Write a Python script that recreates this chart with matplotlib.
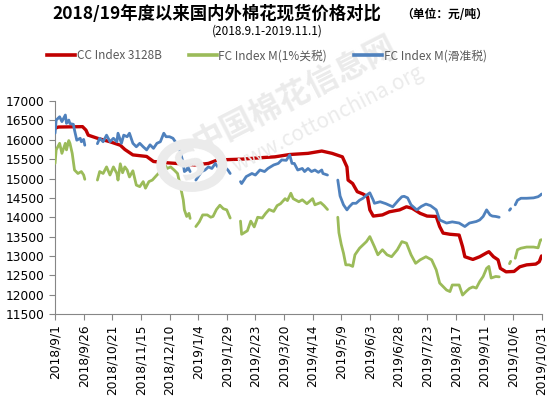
"""2018/19年度以来国内外棉花现货价格对比 – line chart."""

import numpy as np
import pandas as pd
import matplotlib
matplotlib.use("Agg")
import matplotlib.pyplot as plt
from matplotlib.lines import Line2D
from matplotlib.patches import Circle

# ── Style constants ───────────────────────────────────────────────────────
RED   = "#C00000"
GREEN = "#9BBB59"
BLUE  = "#4F81BD"
TEXT_COLOR  = "#000000"
LEGEND_TEXT = "#595959"
SPINE_COLOR = "#868686"
WATERMARK   = "#ebebeb"
CJK = ["Noto Sans CJK SC", "DejaVu Sans"]

# ── Data ──────────────────────────────────────────────────────────────────
red_dates = [
    "2018-09-01", "2018-09-04", "2018-09-25", "2018-09-28", "2018-09-30",
    "2018-10-08", "2018-10-19", "2018-10-28", "2018-11-01", "2018-11-08",
    "2018-11-20", "2018-11-26", "2018-12-06", "2018-12-16", "2019-01-01",
    "2019-01-13", "2019-01-21", "2019-02-11", "2019-03-01", "2019-03-12",
    "2019-03-25", "2019-04-10", "2019-04-22", "2019-05-01", "2019-05-10",
    "2019-05-14", "2019-05-15", "2019-05-19", "2019-05-23", "2019-05-28",
    "2019-06-01", "2019-06-03", "2019-06-06", "2019-06-14", "2019-06-20",
    "2019-06-29", "2019-07-05", "2019-07-10", "2019-07-17", "2019-07-23",
    "2019-07-31", "2019-08-03", "2019-08-06", "2019-08-12", "2019-08-20",
    "2019-08-23", "2019-08-25", "2019-09-01", "2019-09-07", "2019-09-13",
    "2019-09-15", "2019-09-19", "2019-09-23", "2019-09-25", "2019-09-30",
    "2019-10-07", "2019-10-12", "2019-10-18", "2019-10-26", "2019-10-29",
    "2019-10-31",
]
red_vals = [
    16300, 16330, 16340, 16250, 16120,
    16040, 15950, 15860, 15750, 15610,
    15570, 15440, 15410, 15390, 15350,
    15390, 15480, 15500, 15540, 15560,
    15620, 15650, 15710, 15650, 15560,
    15300, 14960, 14870, 14660, 14600,
    14530, 14190, 14030, 14060, 14140,
    14190, 14270, 14230, 14100, 14030,
    14020, 13760, 13590, 13560, 13540,
    13240, 12980, 12910, 12980, 13080,
    13110, 12980, 12900, 12680, 12590,
    12600, 12720, 12770, 12790, 12850,
    13000,
]

blue_dates = [
    "2018-09-01", "2018-09-02", "2018-09-05", "2018-09-07", "2018-09-10",
    "2018-09-11", "2018-09-13", "2018-09-14", "2018-09-17", "2018-09-18",
    "2018-09-20", "2018-09-23", "2018-09-24", "2018-09-26", "2018-09-27",
    "2018-10-03",
    "2018-10-08", "2018-10-10", "2018-10-13", "2018-10-16", "2018-10-19",
    "2018-10-22", "2018-10-25", "2018-10-26", "2018-10-29", "2018-10-31",
    "2018-11-03", "2018-11-05", "2018-11-08", "2018-11-11", "2018-11-14",
    "2018-11-17", "2018-11-20", "2018-11-23", "2018-11-26", "2018-11-29",
    "2018-12-02", "2018-12-05", "2018-12-07", "2018-12-10", "2018-12-13",
    "2018-12-16", "2018-12-19", "2018-12-22", "2018-12-23", "2018-12-25",
    "2018-12-26", "2018-12-28",
    "2018-12-30",
    "2019-01-02", "2019-01-04", "2019-01-07", "2019-01-10", "2019-01-13",
    "2019-01-16", "2019-01-19", "2019-01-22", "2019-01-24", "2019-01-27",
    "2019-01-30", "2019-02-01",
    "2019-02-05",
    "2019-02-10", "2019-02-11", "2019-02-15", "2019-02-20", "2019-02-23",
    "2019-02-27", "2019-03-03", "2019-03-06", "2019-03-11", "2019-03-15",
    "2019-03-18", "2019-03-22", "2019-03-25", "2019-03-27", "2019-03-29",
    "2019-04-01", "2019-04-05", "2019-04-07", "2019-04-10", "2019-04-13",
    "2019-04-16", "2019-04-19", "2019-04-22", "2019-04-23", "2019-04-27",
    "2019-05-01",
    "2019-05-06", "2019-05-08", "2019-05-11", "2019-05-14", "2019-05-16",
    "2019-05-19", "2019-05-22", "2019-05-25", "2019-05-28", "2019-05-31",
    "2019-06-03", "2019-06-06", "2019-06-07", "2019-06-12", "2019-06-17",
    "2019-06-23", "2019-06-28", "2019-07-01", "2019-07-03", "2019-07-06",
    "2019-07-09", "2019-07-14", "2019-07-18", "2019-07-22", "2019-07-26",
    "2019-07-31", "2019-08-03", "2019-08-09", "2019-08-14", "2019-08-20",
    "2019-08-25", "2019-08-29", "2019-09-04", "2019-09-07", "2019-09-10",
    "2019-09-13", "2019-09-16", "2019-09-18", "2019-09-21", "2019-09-24",
    "2019-09-30",
    "2019-10-03", "2019-10-04",
    "2019-10-06",
    "2019-10-08", "2019-10-10", "2019-10-13", "2019-10-18", "2019-10-24",
    "2019-10-28", "2019-10-30", "2019-10-31",
]
blue_vals = [
    16170, 16510, 16595, 16470, 16640,
    16425, 16510, 16420, 16400, 16250,
    15990, 16040, 15950, 16010, 15860,
    None,
    15900, 16040, 15950, 16120, 15950,
    16040, 15950, 16170, 15910, 16120,
    16080, 16170, 15910, 15820, 15910,
    15820, 15740, 15870, 15780, 15910,
    15950, 16170, 16080, 16080, 16040,
    15910, 15740, 15390, 15180, 15220,
    15300, 15180,
    None,
    14960, 15050, 15180, 15220, 15300,
    15260, 15390, 15260, 15350, 15300,
    15220, 15130,
    None,
    14920, 14870, 15050, 15130, 15090,
    15220, 15180, 15260, 15350, 15390,
    15480, 15470, 15610, 15390, 15390,
    15220, 15260, 15180, 15260, 15180,
    15220, 15160, 15220, 15130, 15090,
    None,
    14960, 14550, 14320, 14190, 14270,
    14360, 14360, 14440, 14490, 14570,
    14630, 14440, 14360, 14400, 14350,
    14270, 14440, 14530, 14540, 14500,
    14320, 14190, 14280, 14340, 14300,
    14190, 13930, 13850, 13880, 13850,
    13760, 13850, 13890, 13930, 14020,
    14190, 14060, 14030, 14020, 14000,
    None,
    14180, 14220,
    None,
    14320, 14440, 14490, 14490, 14500,
    14530, 14570, 14600,
]

green_dates = [
    "2018-09-01", "2018-09-02", "2018-09-05", "2018-09-07", "2018-09-10",
    "2018-09-11", "2018-09-13", "2018-09-14", "2018-09-16", "2018-09-18",
    "2018-09-21", "2018-09-24", "2018-09-26", "2018-09-27",
    "2018-10-03",
    "2018-10-08", "2018-10-10", "2018-10-13", "2018-10-16", "2018-10-19",
    "2018-10-22", "2018-10-25", "2018-10-26", "2018-10-28", "2018-10-30",
    "2018-11-01", "2018-11-03", "2018-11-05", "2018-11-08", "2018-11-11",
    "2018-11-14", "2018-11-17", "2018-11-19", "2018-11-22", "2018-11-25",
    "2018-11-29", "2018-12-02", "2018-12-05", "2018-12-08", "2018-12-11",
    "2018-12-14", "2018-12-17", "2018-12-19", "2018-12-22", "2018-12-23",
    "2018-12-25", "2018-12-27", "2018-12-28",
    "2018-12-30",
    "2019-01-02", "2019-01-05", "2019-01-08", "2019-01-12", "2019-01-15",
    "2019-01-17", "2019-01-20", "2019-01-23", "2019-01-26", "2019-01-29",
    "2019-02-01",
    "2019-02-05",
    "2019-02-10", "2019-02-11", "2019-02-16", "2019-02-19", "2019-02-22",
    "2019-02-25", "2019-03-01", "2019-03-04", "2019-03-07", "2019-03-11",
    "2019-03-14", "2019-03-17", "2019-03-21", "2019-03-23", "2019-03-26",
    "2019-03-28", "2019-04-02", "2019-04-05", "2019-04-09", "2019-04-14",
    "2019-04-16", "2019-04-21", "2019-04-24", "2019-04-27",
    "2019-05-01",
    "2019-05-06", "2019-05-07", "2019-05-09", "2019-05-11", "2019-05-13",
    "2019-05-16", "2019-05-19", "2019-05-21", "2019-05-25", "2019-05-31",
    "2019-06-03", "2019-06-07", "2019-06-10", "2019-06-14", "2019-06-18",
    "2019-06-22", "2019-06-27", "2019-07-01", "2019-07-05", "2019-07-09",
    "2019-07-13", "2019-07-17", "2019-07-22", "2019-07-27", "2019-07-31",
    "2019-08-03", "2019-08-06", "2019-08-09", "2019-08-12", "2019-08-14",
    "2019-08-20", "2019-08-23", "2019-08-26", "2019-08-29", "2019-09-01",
    "2019-09-04", "2019-09-07", "2019-09-10", "2019-09-13", "2019-09-15",
    "2019-09-17", "2019-09-21", "2019-09-24",
    "2019-09-30",
    "2019-10-03", "2019-10-04",
    "2019-10-06",
    "2019-10-08", "2019-10-10", "2019-10-13", "2019-10-18", "2019-10-24",
    "2019-10-28", "2019-10-30", "2019-10-31",
]
green_vals = [
    15390, 15740, 15910, 15650, 15910,
    15740, 15980, 15910, 15650, 15220,
    15130, 15180, 15090, 14980,
    None,
    14960, 15180, 15130, 15300, 15090,
    15300, 15130, 14960, 15380, 15150,
    15300, 15220, 15040, 15200, 14830,
    14790, 14920, 14750, 14920, 14960,
    15090, 15180, 15390, 15260, 15300,
    15220, 15130, 14870, 14450, 14190,
    14020, 14100, 13970,
    None,
    13760, 13880, 14060, 14060, 14000,
    14020, 14200, 14310, 14220, 14190,
    13980,
    None,
    13900, 13560, 13650, 13900, 13750,
    14000, 13980, 14100, 14200, 14150,
    14300, 14350, 14480, 14430, 14620,
    14480, 14400, 14450, 14350, 14480,
    14320, 14380, 14300, 14200,
    None,
    14000, 13600, 13300, 13070, 12770,
    12770, 12730, 13030, 13200, 13370,
    13500, 13240, 13030, 13160, 13030,
    12980, 13160, 13370, 13330, 13030,
    12810, 12900, 12980, 12900, 12640,
    12300, 12210, 12120, 12080, 12250,
    12250, 11990, 12080, 12160, 12200,
    12170, 12340, 12470, 12680, 12730,
    12430, 12470, 12460,
    None,
    12800, 12860,
    None,
    12940, 13160, 13200, 13230, 13230,
    13210, 13410, 13420,
]

x_start = "2018-09-01"
x_end   = "2019-10-31"
tick_step_days = 25
y_min, y_max, y_step = 11500, 17000, 500

series = [
    (red_dates,   red_vals,   RED,   2.4, "CC Index 3128B"),
    (green_dates, green_vals, GREEN, 2.0, "FC Index M(1%关税)"),
    (blue_dates,  blue_vals,  BLUE,  2.0, "FC Index M(滑准税)"),
]

# ── Figure ────────────────────────────────────────────────────────────────
fig = plt.figure(figsize=(5.56, 3.98), dpi=100)
fig.patch.set_facecolor("white")
ax = fig.add_axes([0.099, 0.211, 0.875, 0.535])

# watermark: faint logo ring + site name
fig.patches.append(Circle((0.345, 0.585), 0.055, transform=fig.transFigure,
                          fill=False, edgecolor=WATERMARK, linewidth=7,
                          zorder=0))
fig.text(0.345, 0.585, "S", fontsize=30, fontweight="bold", color=WATERMARK,
         ha="center", va="center", rotation=27, zorder=0)
fig.text(0.53, 0.76, "中国棉花信息网", family=CJK, fontsize=23, fontweight="bold",
         color=WATERMARK, rotation=27, ha="center", va="center", zorder=0)
fig.text(0.59, 0.70, "www.cottonchina.org", family=CJK, fontsize=15,
         color=WATERMARK, rotation=27, ha="center", va="center", zorder=0)

for dates, vals, color, lw, label in series:
    d = pd.to_datetime(dates)
    v = np.array([np.nan if x is None else x for x in vals], dtype=float)
    ax.plot(d, v, color=color, linewidth=lw, solid_capstyle="round",
            solid_joinstyle="round", label=label, zorder=3)

ax.set_ylim(y_min, y_max)
ax.set_yticks(np.arange(y_min, y_max + 1, y_step))
ax.set_xlim(pd.Timestamp(x_start), pd.Timestamp(x_end))
ticks = pd.date_range(x_start, x_end, freq=f"{tick_step_days}D")
ax.set_xticks(ticks)
ax.set_xticklabels([f"{t.year}/{t.month}/{t.day}" for t in ticks], rotation=90)

ax.tick_params(axis="both", labelsize=8.8, labelcolor=TEXT_COLOR,
               color=SPINE_COLOR, length=4, width=0.8, direction="out")
for side in ("top", "right"):
    ax.spines[side].set_visible(False)
for side in ("left", "bottom"):
    ax.spines[side].set_color(SPINE_COLOR)
    ax.spines[side].set_linewidth(0.8)
ax.set_facecolor("none")

# titles
fig.text(0.39, 0.965, "2018/19年度以来国内外棉花现货价格对比", family=CJK,
         fontsize=12.5, fontweight="bold", ha="center", va="center")
fig.text(0.80, 0.963, "（单位：元/吨）", family=CJK, fontsize=8.5,
         fontweight="bold", ha="center", va="center")
fig.text(0.48, 0.922, "(2018.9.1-2019.11.1)", family=CJK, fontsize=8.5,
         ha="center", va="center")

# legend
handles = [Line2D([0], [0], color=c, linewidth=2.6) for _, _, c, _, _ in series]
labels = [s[4] for s in series]
leg = fig.legend(handles, labels, loc="center", bbox_to_anchor=(0.48, 0.860),
                 ncol=3, frameon=False, handlelength=2.4, handletextpad=0.1,
                 columnspacing=2.3, prop={"family": CJK, "size": 8.5})
for t in leg.get_texts():
    t.set_color(LEGEND_TEXT)

fig.savefig("out.png", dpi=100, facecolor="white")
